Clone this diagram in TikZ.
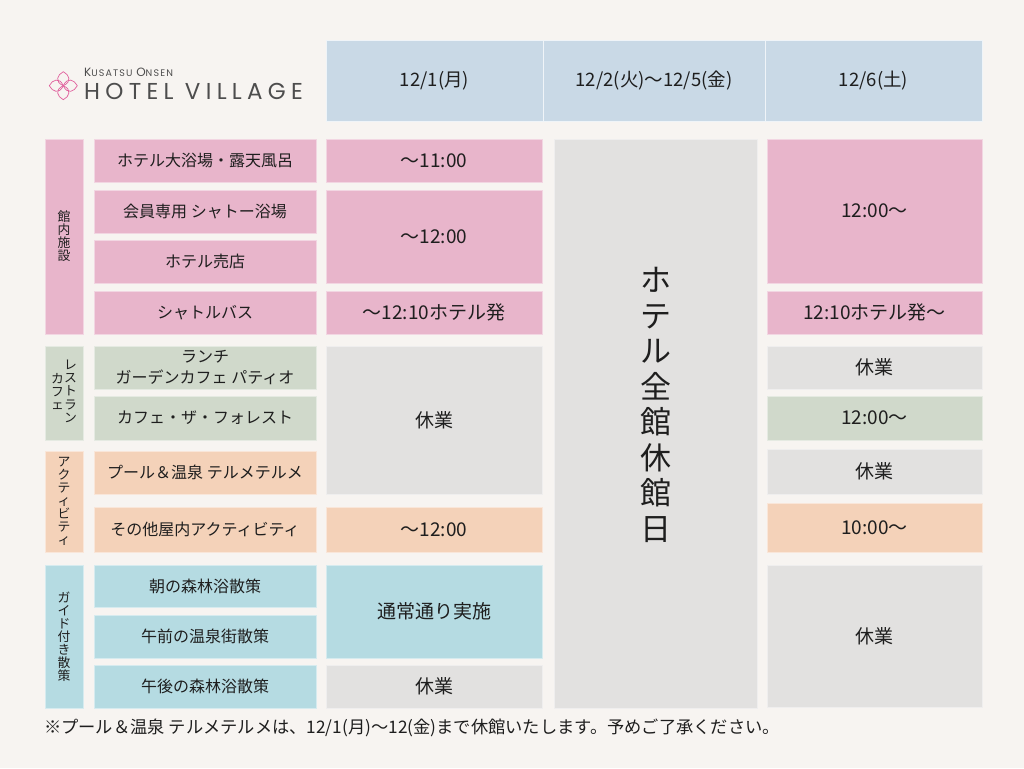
\documentclass[tikz,border=0pt]{standalone}
\usepackage{fontspec}
\setmainfont{Noto Sans CJK JP}
\newfontfamily\logofont[LetterSpace=23]{Poppins}
\newfontfamily\logosmall[LetterSpace=12]{Poppins}
\definecolor{bgc}{HTML}{F7F4F1}
\definecolor{hdrc}{HTML}{C9D9E6}
\definecolor{pinkc}{HTML}{E8B5CB}
\definecolor{greenc}{HTML}{D0D9CB}
\definecolor{orangec}{HTML}{F4D2B9}
\definecolor{bluec}{HTML}{B5DBE2}
\definecolor{grayc}{HTML}{E2E1E0}
\definecolor{txtc}{HTML}{1E1E1E}
\definecolor{logopink}{HTML}{E0609C}
\definecolor{logogray}{HTML}{4D4D4D}
\tikzset{
  box/.style={inner sep=0pt, line width=0.8pt, text=txtc, align=center},
  hdr/.style={box, fill=hdrc, draw=white!70!hdrc, font=\fontsize{18.5}{22}\selectfont},
  pk/.style={fill=pinkc, draw=white!45!pinkc},
  gr/.style={fill=greenc, draw=white!45!greenc},
  org/.style={fill=orangec, draw=white!45!orangec},
  bl/.style={fill=bluec, draw=white!45!bluec},
  gy/.style={fill=grayc, draw=white!45!grayc},
  item/.style={box, font=\fontsize{16}{21}\selectfont},
  val/.style={box, font=\fontsize{19}{23}\selectfont},
  cat/.style={box, font=\fontsize{12.8}{13}\selectfont},
  petal/.style={draw=logopink, line width=0.7pt},
}
\newcommand\cellbox[7]{\node[#2, minimum width={#5-#3}, minimum height={#6-#4}] (#1) at ({(#3+#5)/2},{(#4+#6)/2}) {#7};}
\newcommand\vcol[1]{\begin{tabular}[c]{@{}c@{}}#1\end{tabular}}
\begin{document}
\begin{tikzpicture}[x=1pt,y=-1pt]
\useasboundingbox (0,0) rectangle (1024,768);
\fill[bgc] (0,0) rectangle (1024,768);
% logo
\begin{scope}[shift={(63.3,85.7)}]
  \foreach \r in {0,90,180,270}{
    \draw[petal, rotate=\r] (0,0) .. controls (-9,-4) and (-6,-11) .. (0,-14) .. controls (6,-11) and (9,-4) .. (0,0);
  }
\end{scope}
\node[anchor=base west, inner sep=0pt, font=\logosmall\fontsize{9.5}{10}\selectfont, text=logogray] (logoA) at (84,76) {{\fontsize{12}{12}\selectfont K}USATSU {\fontsize{12}{12}\selectfont O}NSEN};
\node[anchor=base west, inner sep=0pt, font=\logofont\fontsize{23}{23}\selectfont, text=logogray] (logoB) at (84,99) {HOTEL VILLAGE};
% header
\cellbox{h1}{hdr}{326}{40}{543}{121}{12/1(月)}
\cellbox{h2}{hdr}{543}{40}{765}{121}{12/2(火)～12/5(金)}
\cellbox{h3}{hdr}{765}{40}{982}{121}{12/6(土)}
% categories
\cellbox{catA}{cat,pk}{45}{139}{83}{334}{館\\内\\施\\設}
\cellbox{catB}{cat,gr}{45}{346}{83}{440}{\vcol{カ\\フ\\ェ}\vcol{レ\\ス\\ト\\ラ\\ン}}
\cellbox{catC}{cat,org}{45}{451}{83}{552}{ア\\ク\\テ\\ィ\\ビ\\テ\\ィ}
\cellbox{catD}{cat,bl}{45}{565}{83}{708}{ガ\\イ\\ド\\付\\き\\散\\策}
% items
\cellbox{i1}{item,pk}{94}{139}{316}{182}{ホテル大浴場・露天風呂}
\cellbox{i2}{item,pk}{94}{190}{316}{233}{会員専用 シャトー浴場}
\cellbox{i3}{item,pk}{94}{240}{316}{283}{ホテル売店}
\cellbox{i4}{item,pk}{94}{291}{316}{334}{シャトルバス}
\cellbox{i5}{item,gr}{94}{346}{316}{389}{ランチ\\ガーデンカフェ パティオ}
\cellbox{i6}{item,gr}{94}{396}{316}{440}{カフェ・ザ・フォレスト}
\cellbox{i7}{item,org}{94}{451}{316}{494}{プール＆温泉 テルメテルメ}
\cellbox{i8}{item,org}{94}{507}{316}{552}{その他屋内アクティビティ}
\cellbox{i9}{item,bl}{94}{565}{316}{607}{朝の森林浴散策}
\cellbox{i10}{item,bl}{94}{615}{316}{658}{午前の温泉街散策}
\cellbox{i11}{item,bl}{94}{665}{316}{708}{午後の森林浴散策}
% 12/1
\cellbox{a1}{val,pk}{326}{139}{542}{182}{～11:00}
\cellbox{a2}{val,pk}{326}{190}{542}{283}{～12:00}
\cellbox{a3}{val,pk}{326}{291}{542}{334}{～12:10ホテル発}
\cellbox{a4}{val,gy}{326}{346}{542}{494}{休業}
\cellbox{a5}{val,org}{326}{507}{542}{552}{～12:00}
\cellbox{a6}{val,bl}{326}{565}{542}{658}{通常通り実施}
\cellbox{a7}{val,gy}{326}{665}{542}{708}{休業}
% 12/2-12/5
\cellbox{b1}{val,gy}{554}{139}{757}{708}{}
\node[box, font=\fontsize{31}{35.5}\selectfont] (closed) at (655.5,405) {ホ\\テ\\ル\\全\\館\\休\\館\\日};
% 12/6
\cellbox{c1}{val,pk}{767}{139}{982}{283}{12:00～}
\cellbox{c2}{val,pk}{767}{291}{982}{334}{12:10ホテル発～}
\cellbox{c3}{val,gy}{767}{346}{982}{389}{休業}
\cellbox{c4}{val,gr}{767}{396}{982}{440}{12:00～}
\cellbox{c5}{val,gy}{767}{449}{982}{494}{休業}
\cellbox{c6}{val,org}{767}{503}{982}{552}{10:00～}
\cellbox{c7}{val,gy}{767}{565}{982}{707}{休業}
% footer
\node[anchor=west, inner sep=0pt, text=txtc, font=\fontsize{17.25}{20}\selectfont] (note) at (44,728) {※プール＆温泉 テルメテルメは、12/1(月)～12(金)まで休館いたします。予めご了承ください。};
\end{tikzpicture}
\end{document}
